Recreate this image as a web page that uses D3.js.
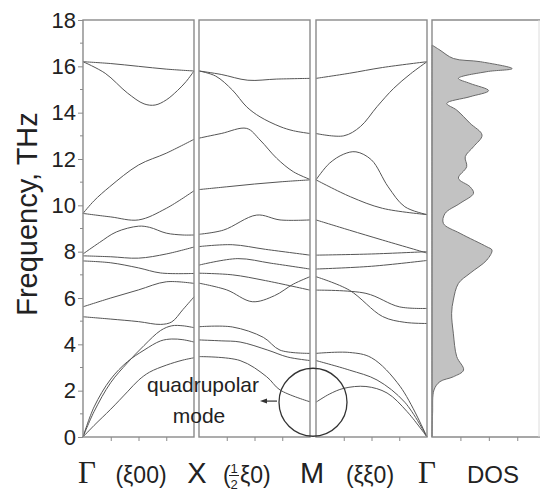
<!DOCTYPE html>
<html>
<head>
<meta charset="utf-8">
<script src="https://cdn.jsdelivr.net/npm/d3@7"></script>
<style>
  body { margin: 0; background: #fff; }
  svg text { font-family: "Liberation Sans", Arial, sans-serif; fill: #222; }
</style>
</head>
<body>
<div id="chart"></div>
<script>
// phonon branches, [reduced wavevector, frequency THz]
var branchesGX = [
  [[0,16.2],[0.25,16.12],[0.5,16.0],[0.75,15.88],[1,15.8]],
  [[0,16.2],[0.2,15.7],[0.4,14.85],[0.55,14.38],[0.65,14.33],[0.75,14.55],[0.85,14.95],[0.93,15.35],[1,15.8]],
  [[0,9.65],[0.1,10.2],[0.24,10.8],[0.5,11.74],[0.75,12.25],[1,12.85]],
  [[0,9.65],[0.25,9.5],[0.5,9.37],[0.75,9.87],[1,10.63]],
  [[0,7.9],[0.15,8.4],[0.3,8.85],[0.5,9.1],[0.6,9.05],[0.75,8.8],[0.9,8.72],[1,8.72]],
  [[0,7.82],[0.25,7.78],[0.5,7.72],[0.75,7.9],[1,8.2]],
  [[0,7.6],[0.25,7.52],[0.5,7.3],[0.7,7.08],[1,7.06]],
  [[0,5.62],[0.25,6.0],[0.5,6.35],[0.75,6.7],[1,6.63]],
  [[0,5.19],[0.25,5.09],[0.5,4.98],[0.7,4.86],[0.8,4.97],[0.9,5.5],[1,6.05]],
  [[0,0],[0.1,1.1],[0.25,2.35],[0.4,3.2],[0.55,3.95],[0.7,4.6],[0.8,4.8],[0.9,4.8],[1,4.72]],
  [[0,0],[0.1,1.3],[0.25,2.5],[0.4,3.25],[0.55,3.75],[0.7,4.15],[0.8,4.23],[0.9,4.2],[1,4.1]],
  [[0,0],[0.1,0.5],[0.25,1.2],[0.4,1.95],[0.5,2.45],[0.6,2.8],[0.75,3.1],[0.9,3.32],[1,3.42]]
]

var branchesXM = [
  [[0,15.8],[0.2,15.65],[0.44,15.4],[0.7,15.45],[1,15.48]],
  [[0,15.8],[0.15,15.58],[0.3,14.98],[0.43,14.25],[0.55,13.82],[0.73,13.4],[0.85,13.22],[1,13.1]],
  [[0,12.9],[0.2,13.1],[0.43,13.32],[0.55,12.82],[0.7,12.03],[0.85,11.45],[1,11.12]],
  [[0,10.68],[0.25,10.8],[0.5,10.92],[0.75,11.02],[1,11.1]],
  [[0,8.75],[0.22,8.93],[0.52,9.58],[0.73,9.37],[1,9.37]],
  [[0,8.22],[0.3,8.3],[0.6,8.1],[1,7.85]],
  [[0,7.42],[0.35,7.7],[0.65,7.5],[1,7.25]],
  [[0,7.07],[0.3,7.0],[0.6,6.75],[1,6.34]],
  [[0,6.64],[0.25,6.35],[0.48,5.84],[0.68,6.1],[0.85,6.6],[1,6.92]],
  [[0,4.76],[0.3,4.75],[0.58,4.3],[0.73,3.75],[1,3.61]],
  [[0,4.19],[0.2,4.15],[0.37,4.1],[0.62,3.75],[0.8,3.45],[1,3.3]],
  [[0,3.47],[0.37,3.3],[0.61,2.6],[0.73,2.03],[1,1.52]]
]

var branchesMG = [
  [[0,15.48],[0.3,15.7],[0.6,15.95],[1,16.2]],
  [[0,13.1],[0.25,13.0],[0.4,13.4],[0.55,14.26],[0.7,15.05],[0.85,15.67],[1,16.2]],
  [[0,11.1],[0.12,11.81],[0.25,12.21],[0.36,12.31],[0.5,11.96],[0.65,10.8],[0.8,9.94],[1,9.6]],
  [[0,11.1],[0.31,10.37],[0.6,9.87],[1,9.6]],
  [[0,9.37],[0.3,8.93],[0.6,8.5],[1,7.94]],
  [[0,7.85],[0.5,7.9],[1,8.0]],
  [[0,7.25],[0.5,7.37],[1,7.62]],
  [[0,6.92],[0.3,6.34],[0.6,5.2],[0.8,4.95],[1,4.9]],
  [[0,6.34],[0.45,6.2],[0.75,5.62],[1,5.55]],
  [[0,3.61],[0.3,3.65],[0.5,3.42],[0.76,2.17],[1,0]],
  [[0,3.3],[0.3,2.89],[0.55,2.46],[0.8,1.5],[1,0]],
  [[0,1.5],[0.12,1.85],[0.25,2.1],[0.45,2.18],[0.64,1.9],[0.82,1.1],[1,0]]
]

// density of states outline, frequency (THz) and DOS (arb. units)
var dosFreq = [0,1.02,2.03,2.39,2.6,2.89,3.47,4.48,5.34,5.91,6.63,7.07,7.64,8.07,8.21,8.79,9.22,9.65,10.09,10.52,10.8,11.17,11.67,12.1,12.53,13.03,13.54,14.11,14.4,14.69,14.95,15.26,15.48,15.77,15.9,16.2,16.34,16.7,16.92]
var dosVal  = [0,0.02,0.07,0.28,0.75,1.11,0.87,0.75,0.69,0.75,0.93,1.34,1.93,2.11,1.93,0.99,0.40,0.46,0.99,1.46,1.34,0.93,1.22,1.17,1.46,1.76,1.34,0.87,0.52,1.34,1.99,1.34,0.93,1.93,2.82,1.70,0.75,0.28,0]

var yTicks = [0,2,4,6,8,10,12,14,16,18]
var yMinor = [1,3,5,7,9,11,13,15,17]
var bottomLabels = ["Γ", "(ξ00)", "X", "M", "(ξξ0)", "Γ", "DOS"]

var width = 542, height = 491
var plotTop = 20, plotBottom = 437
var panels = [
  { x0: 83, x1: 194, data: branchesGX },
  { x0: 199, x1: 310, data: branchesXM },
  { x0: 316, x1: 427, data: branchesMG }
]
var dosBox = { x0: 432, x1: 540 }

var svg = d3.select("#chart").append("svg")
  .attr("width", width)
  .attr("height", height)

var y = d3.scaleLinear().domain([0, 18]).range([plotBottom, plotTop])

var frameColor = "#8a8a8a"
var lineColor = "#555"

panels.forEach(function(p) {
  var x = d3.scaleLinear().domain([0, 1]).range([p.x0, p.x1])
  var g = svg.append("g")

  g.append("g")
    .attr("transform", "translate(0," + plotBottom + ")")
    .call(d3.axisBottom(x).tickValues([0.25, 0.5, 0.75]).tickSize(4).tickFormat(""))
    .call(function(a) { a.select(".domain").remove() })
    .selectAll("line").attr("stroke", frameColor)

  var line = d3.line()
    .x(function(d) { return x(d[0]) })
    .y(function(d) { return y(d[1]) })
    .curve(d3.curveCatmullRom.alpha(0.5))

  g.selectAll("path.branch")
    .data(p.data)
    .enter().append("path")
    .attr("class", "branch")
    .attr("d", line)
    .attr("fill", "none")
    .attr("stroke", lineColor)
    .attr("stroke-width", 1)

  g.append("rect")
    .attr("x", p.x0).attr("y", plotTop)
    .attr("width", p.x1 - p.x0).attr("height", plotBottom - plotTop)
    .attr("fill", "none")
    .attr("stroke", frameColor)
    .attr("stroke-width", 1.4)
})

// DOS panel
var xd = d3.scaleLinear().domain([0, 3.8]).range([dosBox.x0, dosBox.x1])
var dosData = dosFreq.map(function(f, i) { return [dosVal[i], f] })

svg.append("path")
  .datum(dosData)
  .attr("d", d3.area()
    .y(function(d) { return y(d[1]) })
    .x0(xd(0))
    .x1(function(d) { return xd(d[0]) })
    .curve(d3.curveCatmullRom.alpha(0.5)))
  .attr("fill", "#c2c2c2")
  .attr("stroke", "#6a6a6a")
  .attr("stroke-width", 1)

svg.append("g")
  .attr("transform", "translate(0," + plotBottom + ")")
  .call(d3.axisBottom(xd).tickValues([1, 2, 3]).tickSize(4).tickFormat(""))
  .call(function(a) { a.select(".domain").remove() })
  .selectAll("line").attr("stroke", frameColor)

svg.append("path")
  .attr("d", "M" + dosBox.x1 + "," + plotTop + "H" + dosBox.x0 + "V" + plotBottom + "H" + dosBox.x1)
  .attr("fill", "none")
  .attr("stroke", frameColor)
  .attr("stroke-width", 1.4)
svg.append("line")
  .attr("x1", dosBox.x1 - 1).attr("x2", dosBox.x1 - 1)
  .attr("y1", plotTop).attr("y2", plotBottom)
  .attr("stroke", "#dcdcdc").attr("stroke-width", 1)

// left axis
var yAxis = svg.append("g")
  .attr("transform", "translate(" + panels[0].x0 + ",0)")
  .call(d3.axisLeft(y).tickValues(yTicks).tickSize(5).tickPadding(2))
yAxis.select(".domain").remove()
yAxis.selectAll("line").attr("stroke", frameColor)
yAxis.selectAll("text")
  .style("font-family", "'Liberation Sans', Arial, sans-serif")
  .style("font-size", "22px")
  .attr("fill", "#222")

svg.append("g")
  .selectAll("line")
  .data(yMinor)
  .enter().append("line")
  .attr("x1", panels[0].x0 - 3).attr("x2", panels[0].x0)
  .attr("y1", function(d) { return y(d) })
  .attr("y2", function(d) { return y(d) })
  .attr("stroke", frameColor)

svg.append("text")
  .attr("transform", "translate(37," + 214 + ") rotate(-90)")
  .attr("text-anchor", "middle")
  .style("font-size", "29px")
  .text("Frequency, THz")

// bottom labels
var labelY = 483
function label(txt, cx, size, serif) {
  svg.append("text")
    .attr("x", cx).attr("y", labelY)
    .attr("text-anchor", "middle")
    .style("font-size", size + "px")
    .style("font-family", serif ? "'Liberation Serif', 'Times New Roman', serif" : null)
    .text(txt)
}
label(bottomLabels[0], 87, 31, true)
label(bottomLabels[1], 141, 23)
label(bottomLabels[2], 197, 29)
label(bottomLabels[3], 312, 29)
label(bottomLabels[4], 370, 23)
label(bottomLabels[5], 427, 31, true)
label(bottomLabels[6], 493, 24)

// (1/2 ξ0)
svg.append("text").attr("x", 223).attr("y", labelY).style("font-size", "23px").text("(")
svg.append("text").attr("x", 234).attr("y", 473).attr("text-anchor", "middle").style("font-size", "13px").text("1")
svg.append("line").attr("x1", 229).attr("x2", 239).attr("y1", 475.5).attr("y2", 475.5).attr("stroke", "#222").attr("stroke-width", 1)
svg.append("text").attr("x", 234).attr("y", 489).attr("text-anchor", "middle").style("font-size", "13px").text("2")
svg.append("text").attr("x", 240).attr("y", labelY).style("font-size", "23px").text("ξ0)")

// quadrupolar mode annotation
svg.append("circle")
  .attr("cx", 313).attr("cy", y(1.5))
  .attr("r", 34)
  .attr("fill", "none")
  .attr("stroke", "#333")
  .attr("stroke-width", 1.3)

svg.append("line")
  .attr("x1", 277).attr("x2", 265)
  .attr("y1", y(1.55)).attr("y2", y(1.55))
  .attr("stroke", "#333").attr("stroke-width", 1.2)
svg.append("path")
  .attr("d", "M260," + y(1.55) + "l7,-2.5l0,5z")
  .attr("fill", "#333")

svg.append("text")
  .attr("x", 203).attr("y", 392)
  .attr("text-anchor", "middle")
  .style("font-size", "21px")
  .text("quadrupolar")
svg.append("text")
  .attr("x", 199).attr("y", 423)
  .attr("text-anchor", "middle")
  .style("font-size", "21px")
  .text("mode")
</script>
</body>
</html>
